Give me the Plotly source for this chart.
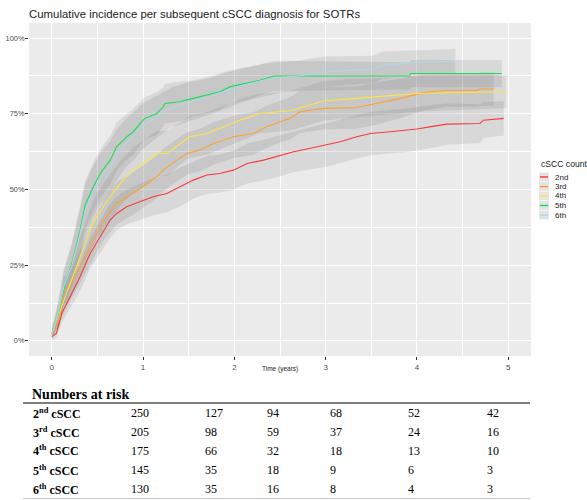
import plotly.graph_objects as go

# ---------------- data ----------------
series_names = ["2nd", "3rd", "4th", "5th", "6th"]
series_colors = ["#FA3A3A", "#FFA033", "#FFE347", "#1EDC5C", "#ADD8E6"]

t_2nd = [0, 0.05, 0.11, 0.2, 0.31, 0.42, 0.53, 0.64, 0.71, 0.82, 0.97, 1.11, 1.26, 1.41, 1.55, 1.70, 1.84, 1.99,
         2.14, 2.32, 2.46, 2.65, 2.83, 3.01, 3.16, 3.34, 3.49, 3.71, 3.89, 4.0, 4.14, 4.33, 4.69, 4.73, 4.95]
est_2nd = [1.4, 2.5, 9.1, 14.6, 21.2, 28.9, 34.4, 39.9, 42.1, 44.3, 46.0, 47.6, 48.7, 50.9, 53.1, 54.8, 55.3, 56.4,
           58.6, 59.7, 60.8, 62.5, 63.6, 64.7, 65.8, 67.4, 68.5, 69.1, 69.6, 70.0, 70.7, 71.6, 71.8, 72.9, 73.5]
lo_2nd = [0.4, 1.0, 6.0, 10.5, 16.5, 24, 29, 34, 36.5, 38.5, 40, 41.5, 42.5, 44.5, 47, 48.5, 49, 50,
          52, 53, 54, 55.8, 56.6, 57.5, 58.6, 60.2, 61.3, 61.9, 62.4, 62.8, 63.6, 64.8, 65.4, 67, 67.8]
hi_2nd = [2.4, 4.0, 12.2, 18.7, 25.9, 33.8, 39.8, 45.4, 47.7, 50, 52, 53.7, 54.9, 57.3, 59.2, 61.1, 61.6, 62.8,
          65.2, 66.4, 67.6, 69.2, 70.6, 71.9, 73, 74.6, 75.7, 76.3, 76.8, 77.2, 77.8, 78.4, 78.2, 78.8, 79.2]

t_3rd = [0, 0.09, 0.13, 0.18, 0.31, 0.40, 0.49, 0.57, 0.71, 0.89, 1.0, 1.15, 1.22, 1.37, 1.48, 1.62, 1.77, 1.99,
         2.21, 2.35, 2.54, 2.61, 2.72, 2.98, 3.34, 3.56, 3.82, 4.07, 4.33, 4.66, 4.69, 4.84]
est_3rd = [2.0, 8.0, 16.8, 16.8, 24.5, 30.0, 35.5, 39.9, 45.4, 48.7, 50.9, 54.2, 56.4, 59.7, 61.9, 63.0, 65.2, 67.4,
           68.5, 70.7, 72.9, 73.5, 75.7, 76.8, 77.1, 78.4, 80.1, 82.0, 82.8, 82.8, 83.2, 83.2]
lo_3rd = [1.0, 5.0, 12.3, 12.3, 19.0, 24.0, 29.0, 33.4, 38.4, 41.7, 43.9, 47.2, 49.4, 52.7, 54.9, 56.0, 58.2, 60.4,
          61.5, 63.7, 65.9, 66.5, 68.7, 69.8, 70.1, 71.4, 73.6, 76.0, 77.3, 77.3, 77.7, 77.7]
hi_3rd = [3.0, 11.0, 21.3, 21.3, 30.0, 36.0, 42.0, 46.4, 52.4, 55.7, 57.9, 61.2, 63.4, 66.7, 68.9, 70.0, 72.2, 74.4,
          75.5, 77.7, 79.9, 80.5, 82.7, 83.8, 84.1, 85.4, 86.6, 88.0, 88.3, 88.3, 88.7, 88.7]

t_4th = [0, 0.11, 0.2, 0.31, 0.42, 0.49, 0.64, 0.75, 0.89, 1.0, 1.15, 1.26, 1.41, 1.51, 1.70, 1.84, 1.99, 2.06,
         2.28, 2.61, 2.83, 2.98, 3.34, 3.71, 3.99, 4.95, 4.98]
est_4th = [2.5, 11.3, 19.0, 27.8, 36.6, 41.0, 47.6, 52.0, 56.4, 58.6, 61.9, 61.9, 65.2, 67.4, 68.5, 70.2, 71.8, 72.9,
           75.1, 76.0, 77.9, 79.3, 80.1, 80.9, 81.7, 82.3, 82.3]
lo_4th = [1.3, 7.3, 13.5, 21.3, 29.6, 33.5, 40.1, 44.5, 48.9, 51.1, 54.4, 54.4, 58.2, 60.4, 61.5, 63.2, 64.8, 65.9,
          68.6, 69.5, 71.4, 72.8, 73.6, 74.9, 75.7, 76.8, 76.8]
hi_4th = [3.7, 15.3, 24.5, 34.3, 43.6, 48.5, 55.1, 59.5, 63.9, 66.1, 69.4, 69.4, 72.2, 74.4, 75.5, 77.2, 78.8, 79.9,
          81.6, 82.5, 84.4, 85.8, 86.6, 86.9, 87.7, 87.8, 87.8]

t_5th = [0, 0.073, 0.128, 0.22, 0.31, 0.365, 0.456, 0.53, 0.64, 0.71, 0.82, 0.89, 1.0, 1.02, 1.15, 1.22, 1.24, 1.40,
         1.55, 1.70, 1.84, 1.95, 2.13, 2.28, 2.43, 3.92, 3.93, 4.93]
est_5th = [2.5, 9.1, 16.8, 25.6, 36.6, 44.9, 51.0, 55.3, 59.7, 64.1, 67.4, 69.0, 72.9, 73.5, 75.1, 77.3, 78.4, 79.0,
           80.1, 81.2, 82.3, 83.9, 85.0, 86.1, 87.5, 87.5, 88.3, 88.3]
lo_5th = [1.0, 5.1, 11.3, 18.6, 28.6, 36.9, 43.0, 47.3, 51.7, 56.1, 59.9, 61.5, 65.9, 66.5, 68.1, 70.8, 71.9, 72.5,
          74.1, 75.2, 76.3, 78.4, 79.5, 81.1, 82.5, 83.0, 83.8, 83.8]
hi_5th = [4.0, 13.1, 22.3, 32.6, 44.6, 52.9, 59.0, 63.3, 67.7, 72.1, 74.9, 76.5, 79.9, 80.5, 82.1, 83.8, 84.9, 85.5,
          86.1, 87.2, 88.3, 89.4, 90.5, 91.1, 92.5, 92.0, 92.8, 92.8]

t_6th = [0, 0.073, 0.128, 0.22, 0.31, 0.365, 0.456, 0.53, 0.64, 0.71, 0.82, 0.89, 1.0, 1.15, 1.3, 1.5, 1.7, 1.9,
         2.1, 2.3, 2.5, 2.7, 2.98, 3.52, 3.63, 3.99, 4.42]
est_6th = [2.0, 9.5, 17.5, 25.0, 35.5, 43.0, 49.5, 53.5, 57.5, 61.5, 65.5, 67.5, 71.0, 74.0, 77.0, 79.0, 80.5, 82.5,
           84.5, 86.0, 87.0, 87.5, 88.9, 89.7, 91.1, 92.0, 92.4]
lo_6th = [0.5, 5.5, 11.5, 18.0, 27.5, 34.5, 41.0, 45.0, 49.0, 53.0, 57.5, 59.5, 63.5, 67.0, 70.5, 72.5, 74.5, 76.5,
          79.0, 80.5, 82.0, 82.5, 83.9, 85.2, 86.6, 88.0, 88.4]
hi_6th = [3.5, 13.5, 23.5, 32.0, 43.5, 51.5, 58.0, 62.0, 66.0, 70.0, 73.5, 75.5, 78.5, 81.0, 83.5, 85.5, 86.5, 88.5,
          90.0, 91.5, 92.0, 92.5, 93.9, 94.2, 95.6, 96.0, 96.4]

x_ticks = [0, 1, 2, 3, 4, 5]
y_ticks = [0, 25, 50, 75, 100]
y_tick_labels = ["0%", "25%", "50%", "75%", "100%"]

risk_row_labels = ["2<sup>nd</sup> cSCC", "3<sup>rd</sup> cSCC", "4<sup>th</sup> cSCC",
                   "5<sup>th</sup> cSCC", "6<sup>th</sup> cSCC"]
risk_2nd = [250, 127, 94, 68, 52, 42]
risk_3rd = [205, 98, 59, 37, 24, 16]
risk_4th = [175, 66, 32, 18, 13, 10]
risk_5th = [145, 35, 18, 9, 6, 3]
risk_6th = [130, 35, 16, 8, 4, 3]

# ---------------- figure ----------------
W, H = 587, 500
L, R, T, B = 29, 531, 23, 356   # plot area in pixels


def px(xs):
    return (xs - L) / (R - L)


def py(ys):
    return (B - ys) / (B - T)


all_series = [
    (t_2nd, est_2nd, lo_2nd, hi_2nd),
    (t_3rd, est_3rd, lo_3rd, hi_3rd),
    (t_4th, est_4th, lo_4th, hi_4th),
    (t_5th, est_5th, lo_5th, hi_5th),
    (t_6th, est_6th, lo_6th, hi_6th),
]

fig = go.Figure()
band_fill = "rgba(110,110,110,0.15)"
for (t, e, lo, hi), name in zip(all_series, series_names):
    fig.add_trace(go.Scatter(
        x=list(t) + list(t)[::-1], y=list(hi) + list(lo)[::-1],
        fill="toself", fillcolor=band_fill, line=dict(width=0),
        mode="lines", hoverinfo="skip", showlegend=False))
for (t, e, lo, hi), name, col in zip(all_series, series_names, series_colors):
    fig.add_trace(go.Scatter(
        x=t, y=e, mode="lines", name=name,
        line=dict(color=col, width=1.1), showlegend=False))

fig.update_layout(
    width=W, height=H,
    margin=dict(l=L, r=W - R, t=T, b=H - B, pad=0, autoexpand=False),
    paper_bgcolor="white", plot_bgcolor="#EBEBEB",
    font=dict(family="Liberation Sans, Arial, sans-serif", color="#4D4D4D"),
    title=dict(text="Cumulative incidence per subsequent cSCC diagnosis for SOTRs",
               x=29 / W, xanchor="left", y=1 - 14 / H, yanchor="middle",
               font=dict(size=11.4, color="#1A1A1A", family="Liberation Sans, Arial, sans-serif")),
)
fig.update_xaxes(range=[-0.25, 5.25], tickvals=x_ticks, showgrid=True, gridcolor="white", gridwidth=1,
                 minor=dict(dtick=0.5, showgrid=True, gridcolor="white", gridwidth=0.5),
                 ticks="outside", ticklen=3, tickwidth=0.6, tickcolor="#333333", automargin=False,
                 tickfont=dict(size=8, color="#4D4D4D"), zeroline=False, showline=False)
fig.update_yaxes(range=[-5, 105], tickvals=y_ticks, ticktext=y_tick_labels, showgrid=True,
                 gridcolor="white", gridwidth=1, automargin=False, ticklabelstandoff=-1,
                 minor=dict(dtick=12.5, showgrid=True, gridcolor="white", gridwidth=0.5),
                 ticks="outside", ticklen=3, tickwidth=0.6, tickcolor="#333333",
                 tickfont=dict(size=7.4, color="#4D4D4D"), zeroline=False, showline=False)

ann = []
shapes = []
# x-axis title
ann.append(dict(text="Time (years)", x=px(280), y=py(369), xref="paper", yref="paper",
                showarrow=False, xanchor="center", yanchor="middle",
                font=dict(size=6.5, color="#1A1A1A")))

# manual legend
ann.append(dict(text="cSCC count", x=px(539), y=py(164), xref="paper", yref="paper",
                showarrow=False, xanchor="left", yanchor="middle",
                font=dict(size=8.6, color="#1A1A1A")))
leg_y = [177, 186.5, 196, 205.5, 215]
for name, col, yy in zip(series_names, series_colors, leg_y):
    shapes.append(dict(type="rect", xref="paper", yref="paper",
                       x0=px(539), x1=px(549), y0=py(yy - 4.5), y1=py(yy + 4.5),
                       fillcolor="#E4E4E4", line=dict(width=0)))
    shapes.append(dict(type="line", xref="paper", yref="paper",
                       x0=px(540), x1=px(548), y0=py(yy), y1=py(yy),
                       line=dict(color=col, width=1.5)))
    ann.append(dict(text=name, x=px(553), y=py(yy), xref="paper", yref="paper",
                    showarrow=False, xanchor="left", yanchor="middle",
                    font=dict(size=8, color="#1A1A1A")))

# numbers at risk table
serif = "Liberation Serif, Times New Roman, serif"
ann.append(dict(text="<b>Numbers at risk</b>", x=px(30), y=py(395), xref="paper", yref="paper",
                showarrow=False, xanchor="left", yanchor="middle",
                font=dict(size=14, color="black", family=serif)))
shapes.append(dict(type="line", xref="paper", yref="paper", x0=px(23), x1=px(530),
                   y0=py(403), y1=py(403), line=dict(color="#555555", width=1.6)))
shapes.append(dict(type="line", xref="paper", yref="paper", x0=px(23), x1=px(530),
                   y0=py(498.5), y1=py(498.5), line=dict(color="#CCCCCC", width=1)))
col_x = [129, 203, 265, 328, 406, 485]
row_y = [413, 432, 451, 470, 489]
risk_rows = [risk_2nd, risk_3rd, risk_4th, risk_5th, risk_6th]
for lab, vals, yy in zip(risk_row_labels, risk_rows, row_y):
    ann.append(dict(text="<b>" + lab + "</b>", x=px(31), y=py(yy), xref="paper", yref="paper",
                    showarrow=False, xanchor="left", yanchor="middle",
                    font=dict(size=12, color="black", family=serif)))
    for v, xx in zip(vals, col_x):
        ann.append(dict(text=str(v), x=px(xx), y=py(yy), xref="paper", yref="paper",
                        showarrow=False, xanchor="left", yanchor="middle",
                        font=dict(size=12, color="black", family=serif)))

fig.update_layout(annotations=ann, shapes=shapes)
fig.write_html("out.html", config={"displayModeBar": False},
               post_script="document.body.style.margin='0';document.body.style.overflow='hidden';")
